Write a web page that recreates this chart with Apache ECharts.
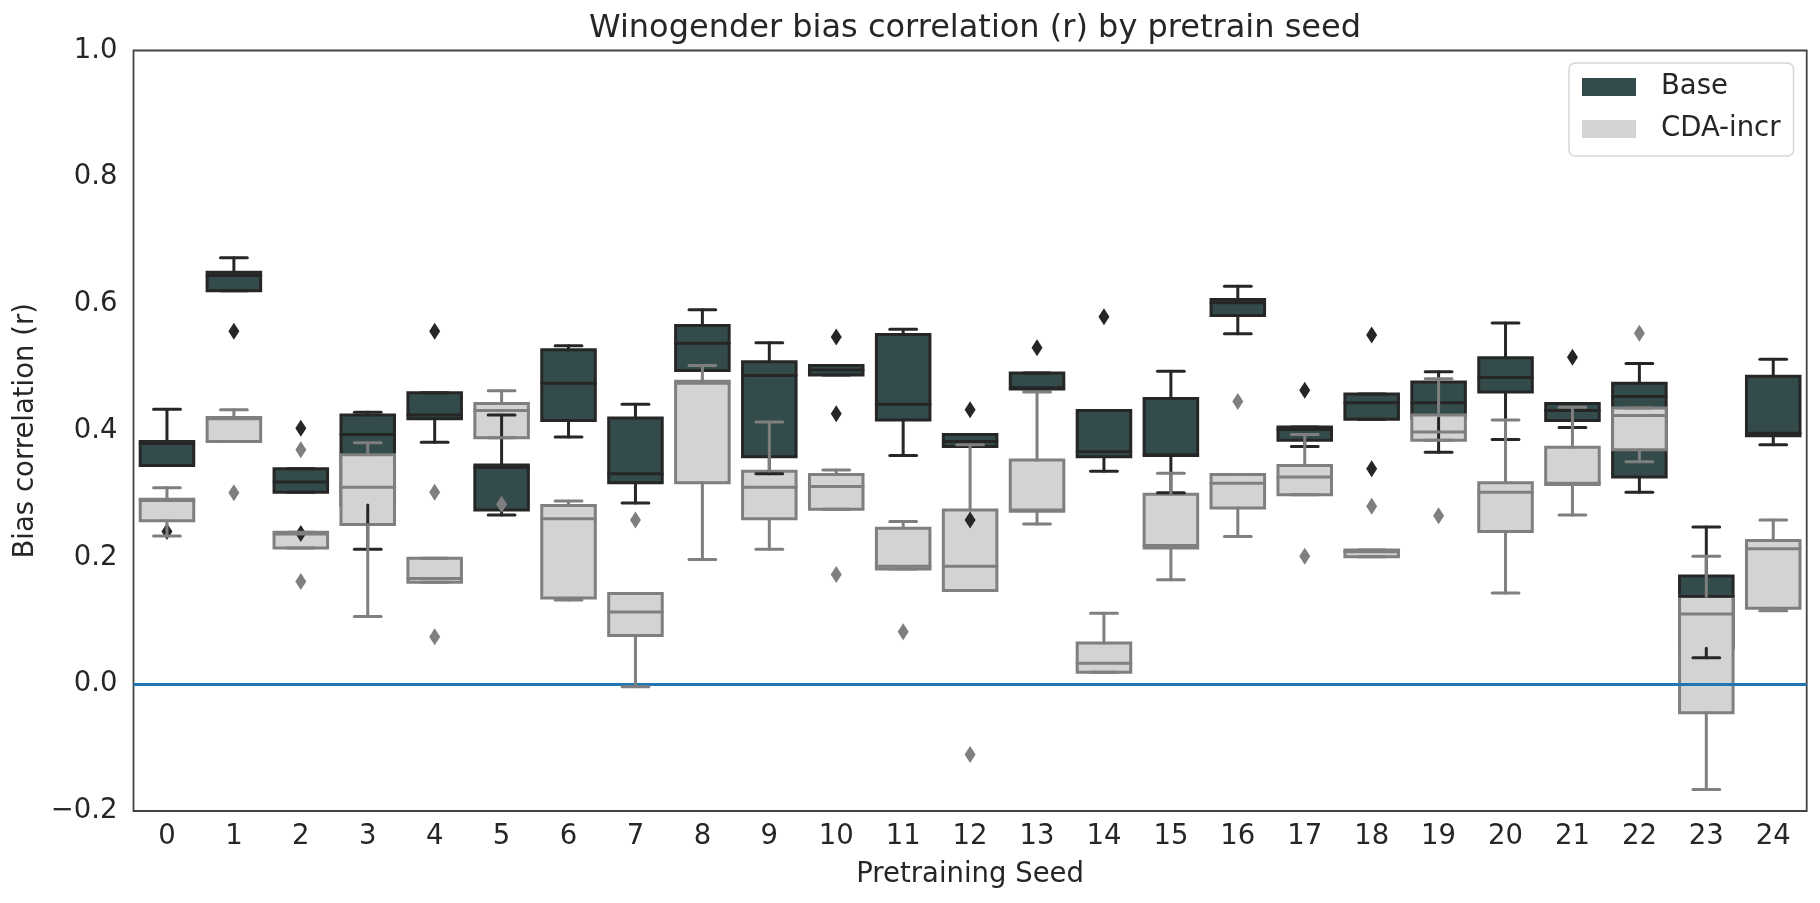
<!DOCTYPE html>
<html>
<head>
<meta charset="utf-8">
<title>Winogender bias correlation</title>
<script src="https://cdn.jsdelivr.net/npm/echarts@6/dist/echarts.min.js"></script>
<style>
  html, body { margin: 0; padding: 0; background: #fff; }
  #chart { width: 1820px; height: 903px; }
</style>
</head>
<body>
<div id="chart"></div>
<script>
// seeds on the x axis
var seeds = ['0', '1', '2', '3', '4', '5', '6', '7', '8', '9', '10', '11', '12',
    '13', '14', '15', '16', '17', '18', '19', '20', '21', '22', '23', '24'];

// Base: whisker low, Q1, median, Q3, whisker high
var baseLow = [0.345, 0.621, 0.303, 0.213, 0.382, 0.267, 0.390, 0.286, 0.495, 0.332, 0.488, 0.361, 0.375,
    0.466, 0.336, 0.302, 0.553, 0.375, 0.418, 0.366, 0.386, 0.405, 0.303, 0.042, 0.378];
var baseQ1 = [0.345, 0.621, 0.303, 0.283, 0.419, 0.275, 0.416, 0.318, 0.495, 0.359, 0.488, 0.417, 0.375,
    0.466, 0.359, 0.361, 0.582, 0.385, 0.418, 0.420, 0.461, 0.416, 0.327, 0.057, 0.392];
var baseMed = [0.380, 0.645, 0.319, 0.394, 0.425, 0.342, 0.475, 0.332, 0.538, 0.487, 0.496, 0.442, 0.383,
    0.468, 0.367, 0.362, 0.602, 0.402, 0.444, 0.444, 0.484, 0.432, 0.454, 0.139, 0.396];
var baseQ3 = [0.383, 0.650, 0.340, 0.425, 0.460, 0.346, 0.528, 0.420, 0.566, 0.509, 0.503, 0.552, 0.394,
    0.491, 0.432, 0.451, 0.607, 0.406, 0.458, 0.477, 0.515, 0.443, 0.475, 0.171, 0.486];
var baseHigh = [0.434, 0.673, 0.340, 0.429, 0.460, 0.425, 0.534, 0.442, 0.591, 0.539, 0.503, 0.560, 0.394,
    0.491, 0.432, 0.494, 0.628, 0.406, 0.458, 0.493, 0.570, 0.443, 0.506, 0.248, 0.513];
var baseFliers = [[0, 0.241], [1, 0.557], [2, 0.404], [2, 0.238], [4, 0.557], [10, 0.548], [10, 0.427],
    [12, 0.433], [12, 0.259], [13, 0.531], [14, 0.580], [17, 0.464], [18, 0.551], [18, 0.340], [21, 0.516]];

// CDA-incr: whisker low, Q1, median, Q3, whisker high
var cdaLow = [0.234, 0.383, 0.215, 0.107, 0.161, 0.389, 0.133, -0.004, 0.197, 0.213, 0.276, 0.182, 0.148,
    0.253, 0.019, 0.165, 0.233, 0.299, 0.201, 0.385, 0.144, 0.267, 0.351, -0.166, 0.116];
var cdaQ1 = [0.258, 0.383, 0.215, 0.252, 0.161, 0.389, 0.136, 0.077, 0.318, 0.261, 0.276, 0.182, 0.148,
    0.273, 0.019, 0.215, 0.278, 0.299, 0.201, 0.385, 0.241, 0.315, 0.370, -0.045, 0.120];
var cdaMed = [0.290, 0.419, 0.237, 0.311, 0.167, 0.432, 0.261, 0.114, 0.475, 0.311, 0.312, 0.186, 0.186,
    0.275, 0.033, 0.219, 0.317, 0.327, 0.209, 0.398, 0.303, 0.317, 0.424, 0.111, 0.214];
var cdaQ3 = [0.292, 0.421, 0.240, 0.362, 0.199, 0.443, 0.282, 0.143, 0.478, 0.336, 0.331, 0.246, 0.275,
    0.354, 0.065, 0.300, 0.331, 0.345, 0.212, 0.425, 0.318, 0.374, 0.436, 0.139, 0.227];
var cdaHigh = [0.310, 0.433, 0.240, 0.381, 0.199, 0.463, 0.289, 0.143, 0.503, 0.414, 0.338, 0.257, 0.378,
    0.461, 0.112, 0.333, 0.331, 0.394, 0.212, 0.482, 0.417, 0.437, 0.436, 0.202, 0.259];
var cdaFliers = [[1, 0.302], [2, 0.370], [2, 0.162], [4, 0.303], [4, 0.075], [5, 0.284], [7, 0.259],
    [10, 0.173], [11, 0.083], [12, -0.111], [16, 0.446], [17, 0.202], [18, 0.281], [19, 0.266], [22, 0.554]];

var yTicks = [-0.2, 0.0, 0.2, 0.4, 0.6, 0.8, 1.0];

var FONT = 'DejaVu Sans';
var BASE_FILL = '#334b4b', BASE_LINE = '#262626';
var CDA_FILL = '#d3d3d3', CDA_LINE = '#7f7f7f';
var LW = 3;

function makeRows(low, q1, med, q3, high) {
    var rows = [];
    for (var i = 0; i < seeds.length; i++) {
        rows.push([i, low[i], q1[i], med[i], q3[i], high[i]]);
    }
    return rows;
}
var baseRows = makeRows(baseLow, baseQ1, baseMed, baseQ3, baseHigh);
var cdaRows = makeRows(cdaLow, cdaQ1, cdaMed, cdaQ3, cdaHigh);

// 箱体
function boxRenderer(fill, stroke) {
    return function (params, api) {
        var x = api.value(0);
        var top = api.coord([x, api.value(4)]);
        var bot = api.coord([x, api.value(2)]);
        var w = api.size([1, 0])[0] * 0.8;
        return {
            type: 'rect',
            shape: { x: top[0] - w / 2, y: top[1], width: w, height: bot[1] - top[1] },
            style: { fill: fill, stroke: stroke, lineWidth: LW }
        };
    };
}

// 须线、端帽、中位线
function lineRenderer(stroke) {
    return function (params, api) {
        var x = api.value(0);
        var pLow = api.coord([x, api.value(1)]);
        var pQ1 = api.coord([x, api.value(2)]);
        var pMed = api.coord([x, api.value(3)]);
        var pQ3 = api.coord([x, api.value(4)]);
        var pHigh = api.coord([x, api.value(5)]);
        var band = api.size([1, 0])[0];
        var w = band * 0.8, cw = band * 0.4;
        var cx = pMed[0];
        var st = { stroke: stroke, lineWidth: LW, lineCap: 'round' };
        function seg(x1, y1, x2, y2) {
            return { type: 'line', shape: { x1: x1, y1: y1, x2: x2, y2: y2 }, style: st };
        }
        return {
            type: 'group',
            children: [
                seg(cx, pQ1[1], cx, pLow[1]),
                seg(cx, pQ3[1], cx, pHigh[1]),
                seg(cx - cw / 2, pLow[1], cx + cw / 2, pLow[1]),
                seg(cx - cw / 2, pHigh[1], cx + cw / 2, pHigh[1]),
                seg(cx - w / 2, pMed[1], cx + w / 2, pMed[1])
            ]
        };
    };
}

var myChart = echarts.init(document.getElementById('chart'));

var option = {
    animation: false,
    backgroundColor: '#fff',
    title: {
        text: 'Winogender bias correlation (r) by pretrain seed',
        left: 970,
        top: 8,
        textAlign: 'center',
        textStyle: { fontFamily: FONT, fontSize: 32, fontWeight: 'normal', color: '#262626' }
    },
    legend: {
        orient: 'vertical',
        left: 1569,
        top: 63,
        padding: [9, 13, 12, 13],
        itemGap: 12,
        itemWidth: 54,
        itemHeight: 18,
        backgroundColor: '#fff',
        borderColor: '#d6d6d6',
        borderWidth: 1.5,
        borderRadius: 6,
        itemStyle: { borderWidth: 0 },
        textStyle: { fontFamily: FONT, fontSize: 27.5, color: '#262626', lineHeight: 30, padding: [0, 0, 0, 20] },
        data: [{ name: 'Base', icon: 'rect' }, { name: 'CDA-incr', icon: 'rect' }]
    },
    grid: {
        left: 133.5,
        right: 13.3,
        top: 50.5,
        bottom: 92,
        show: true,
        borderColor: '#444',
        borderWidth: 1.8
    },
    xAxis: {
        type: 'category',
        data: seeds,
        name: 'Pretraining Seed',
        nameLocation: 'middle',
        nameGap: 50,
        nameTextStyle: { fontFamily: FONT, fontSize: 27.5, color: '#262626' },
        axisLine: { show: false },
        axisTick: { show: false },
        axisLabel: { fontFamily: FONT, fontSize: 27.5, color: '#262626', margin: 12, interval: 0 },
        splitLine: { show: false }
    },
    yAxis: {
        type: 'value',
        min: yTicks[0],
        max: yTicks[yTicks.length - 1],
        interval: 0.2,
        name: 'Bias correlation (r)',
        nameLocation: 'middle',
        nameGap: 94,
        nameTextStyle: { fontFamily: FONT, fontSize: 27.5, color: '#262626' },
        axisLine: { show: false },
        axisTick: { show: false },
        splitLine: { show: false },
        axisLabel: {
            fontFamily: FONT, fontSize: 27.5, color: '#262626', margin: 16,
            formatter: function (v) { return v.toFixed(1).replace('-', '\u2212'); }
        }
    },
    series: [
        {
            name: 'Base',
            type: 'custom',
            z: 2,
            itemStyle: { color: BASE_FILL },
            renderItem: boxRenderer(BASE_FILL, BASE_LINE),
            encode: { x: 0, y: [1, 2, 3, 4, 5] },
            data: baseRows
        },
        {
            name: 'CDA-incr',
            type: 'custom',
            z: 3,
            itemStyle: { color: CDA_FILL },
            renderItem: boxRenderer(CDA_FILL, CDA_LINE),
            encode: { x: 0, y: [1, 2, 3, 4, 5] },
            data: cdaRows
        },
        {
            name: 'Base lines',
            type: 'custom',
            z: 4,
            renderItem: lineRenderer(BASE_LINE),
            encode: { x: 0, y: [1, 2, 3, 4, 5] },
            data: baseRows
        },
        {
            name: 'Base fliers',
            type: 'scatter',
            z: 4,
            symbol: 'diamond',
            symbolSize: [11, 17],
            itemStyle: { color: BASE_LINE, opacity: 1 },
            data: baseFliers
        },
        {
            name: 'CDA-incr lines',
            type: 'custom',
            z: 5,
            renderItem: lineRenderer(CDA_LINE),
            encode: { x: 0, y: [1, 2, 3, 4, 5] },
            data: cdaRows
        },
        {
            name: 'CDA-incr fliers',
            type: 'scatter',
            z: 5,
            symbol: 'diamond',
            symbolSize: [11, 17],
            itemStyle: { color: CDA_LINE, opacity: 1 },
            data: cdaFliers
        },
        {
            name: 'zero',
            type: 'line',
            z: 6,
            data: [],
            markLine: {
                silent: true,
                symbol: 'none',
                label: { show: false },
                lineStyle: { color: '#1f77b4', width: 2.8, type: 'solid' },
                data: [{ yAxis: 0 }]
            }
        }
    ]
};

myChart.setOption(option);
</script>
</body>
</html>
